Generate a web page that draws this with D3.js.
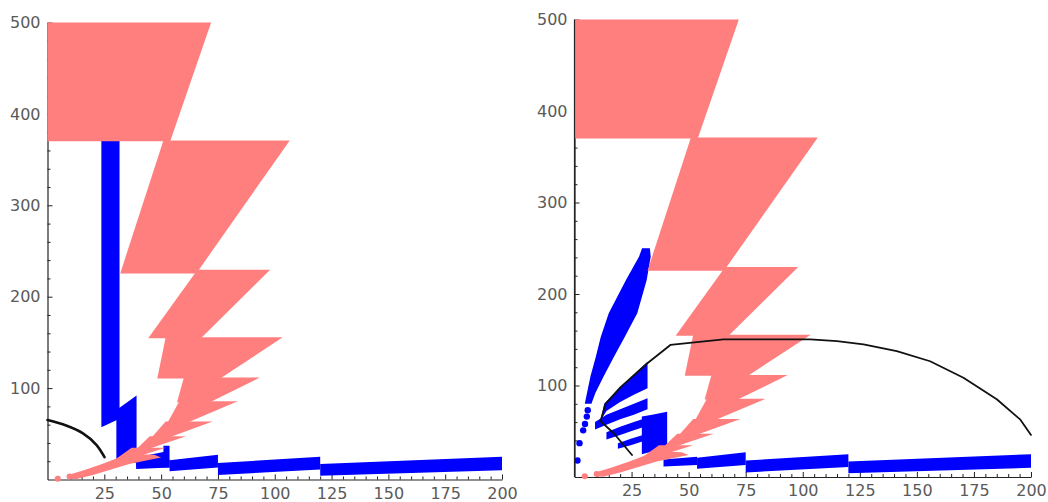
<!DOCTYPE html>
<html>
<head>
<meta charset="utf-8">
<script src="https://cdn.jsdelivr.net/npm/d3@7"></script>
<style>
  body { margin: 0; background: #fff; }
  svg { display: block; }
</style>
</head>
<body>
<svg id="chart" width="1048" height="502"></svg>
<script>
// ---- tick labels ----
const xTickLabels = [25, 50, 75, 100, 125, 150, 175, 200];
const yTickLabels = [100, 200, 300, 400, 500];

// ---- pink region: stacked bands with horizontal top/bottom edges ----
const pinkTop         = [500, 371, 229.5, 155.5, 111.5, 85.5, 63.5, 47.2, 34.7];
const pinkBottom      = [370, 225.5, 154.5, 110.6, 84.6, 62.8, 46.5, 34, 23];
const pinkTopLeft     = [0, 51, 66, 52, 60, 58, 52, 45, 37];
const pinkTopRight    = [72, 106.6, 98, 103.5, 93.4, 83.7, 72.7, 61, 52];
const pinkBottomLeft  = [0, 32, 44.3, 48.3, 57, 53, 46, 39.4, 30.4];
const pinkBottomRight = [54, 65.5, 67.5, 76, 71.5, 62.2, 54, 45, 37];
// tail running down toward the origin
const pinkTail = [
  [9, 1], [12.5, 0.3], [20, 5], [28, 11], [36, 17], [44, 21], [50, 24],
  [47, 27], [38, 28], [32, 24.5], [24, 17], [16, 10], [9, 5]
];
const pinkDots = [[4.5, 0.8], [9.7, 3.3]];

// ---- blue strip along the bottom, in four segments ----
const stripStart     = [39, 53.7, 75, 120];
const stripEnd       = [53.7, 75, 120, 200];
const stripTopStart  = [19, 21, 18, 17];
const stripTopEnd    = [22, 27, 25, 25];
const stripBotStart  = [11.5, 9, 5, 4];
const stripBotEnd    = [13, 13, 11, 10];

// ---- left plot: blue bars ----
const leftBarTall  = [[23.7, 371], [31.7, 371], [31.7, 66.5], [23.7, 57.3]];
const leftBarShort = [[30.3, 20], [30.3, 76], [39.2, 92], [39.2, 18]];
const leftBarThin  = [[39, 14], [39, 24], [51, 30], [51, 37], [53.7, 37], [53.7, 13]];

// ---- right plot: blue fan of streaks ----
const rightOuterRay = [
  [4.5, 80], [5.5, 92], [7, 110], [9.2, 130], [11.5, 153], [15, 179], [22.5, 215], [28.3, 241], [29.6, 250],
  [33, 250], [33.4, 241], [31.6, 215], [27.5, 179], [22, 153], [17, 130], [12.8, 110], [9.2, 92], [7.4, 80]
];
const rightOuterDots = [[1.3, 18], [2.2, 37], [3.8, 51], [4.6, 58], [5.4, 66], [5.8, 73]];
const rightWedge   = [[11.5, 62], [13, 80], [20, 98], [26, 112], [32, 126], [32, 97], [26, 90], [20, 82], [14, 72], [12, 64]];
const rightStreak1 = [[9, 52], [14, 57], [20, 63], [26, 68], [32, 74], [32, 86], [26, 80], [20, 74], [14, 68], [9, 60]];
const rightStreak2 = [[14, 41], [20, 46], [26, 51], [32, 56], [32, 65], [26, 60], [20, 55], [14, 49]];
const rightStreak3 = [[19, 31], [25, 35], [30, 39], [30, 46], [25, 42], [19, 37]];
const rightBlock   = [[29.5, 25], [29.5, 66], [34, 68], [40.6, 71.4], [40.6, 31.4], [34, 28]];

// ---- black curves ----
const leftCurve = [[0, 65], [8.2, 59], [15.6, 50.5], [21.5, 38], [25.1, 24.4]];
const rightCurve = [
  [25.2, 24], [17.2, 47.8], [11.4, 61], [13.6, 80], [20.1, 98], [31.8, 124], [42, 144.3],
  [65.3, 150.5], [103.3, 150.5], [115, 148.5], [126.6, 145], [141.2, 137.5], [155.8, 126.5],
  [170.4, 108.5], [185, 85], [195.2, 63], [200, 46]
];

const PINK = "#ff7f7f";
const BLUE = "#0000ff";

const svg = d3.select("#chart");
svg.append("rect").attr("width", 1048).attr("height", 502).attr("fill", "#fff");

function drawPanel(opts) {
  const x = d3.scaleLinear().domain([0, 200]).range([opts.left, opts.right]);
  const y = d3.scaleLinear().domain([0, 500]).range([opts.bottom, opts.top]);
  const g = svg.append("g");
  const poly = d3.line().x(d => x(d[0])).y(d => y(d[1]));
  const closed = pts => poly(pts) + "Z";

  // axes
  const axisG = g.append("g").attr("class", "axes");
  const xMinor = d3.range(5, 201, 5).filter(v => v % 25 !== 0);
  const yMinor = d3.range(20, 501, 20).filter(v => v % 100 !== 0);

  axisG.append("g").attr("transform", `translate(0,${opts.bottom})`)
    .call(d3.axisBottom(x).tickValues(xTickLabels).tickSize(-5).tickSizeOuter(0).tickPadding(8).tickFormat(d3.format("d")));
  axisG.append("g").attr("transform", `translate(0,${opts.bottom})`)
    .call(d3.axisBottom(x).tickValues(xMinor).tickSize(-3).tickSizeOuter(0).tickFormat(""))
    .select(".domain").remove();
  axisG.append("g").attr("transform", `translate(${opts.left},0)`)
    .call(d3.axisLeft(y).tickValues(yTickLabels).tickSize(-5).tickSizeOuter(0).tickPadding(7).tickFormat(d3.format("d")));
  axisG.append("g").attr("transform", `translate(${opts.left},0)`)
    .call(d3.axisLeft(y).tickValues(yMinor).tickSize(-3).tickSizeOuter(0).tickFormat(""))
    .select(".domain").remove();
  axisG.selectAll(".domain").attr("stroke", "#222").attr("stroke-width", 1.2);
  axisG.selectAll(".tick line").attr("stroke", "#222").attr("stroke-width", 1);
  axisG.selectAll("text")
    .attr("font-family", "DejaVu Sans, Verdana, sans-serif")
    .attr("font-size", 16)
    .attr("fill", "#5a5a5a");

  // blue strip along the bottom
  const strip = stripStart.map((s, i) => [
    [s, stripTopStart[i]], [stripEnd[i], stripTopEnd[i]],
    [stripEnd[i], stripBotEnd[i]], [s, stripBotStart[i]]
  ]);
  g.append("g").selectAll("path").data(strip).join("path")
    .attr("d", closed).attr("fill", BLUE);

  // panel specific blue shapes
  g.append("g").selectAll("path").data(opts.blueShapes).join("path")
    .attr("d", closed).attr("fill", BLUE);
  g.append("g").selectAll("circle").data(opts.blueDots).join("circle")
    .attr("cx", d => x(d[0])).attr("cy", d => y(d[1])).attr("r", 3.2).attr("fill", BLUE);

  // pink bands
  const bands = pinkTop.map((t, i) => [
    [pinkTopLeft[i], t], [pinkTopRight[i], t],
    [pinkBottomRight[i], pinkBottom[i]], [pinkBottomLeft[i], pinkBottom[i]]
  ]);
  const pinkG = g.append("g");
  pinkG.selectAll("path.band").data(bands).join("path").attr("class", "band")
    .attr("d", closed).attr("fill", PINK);
  pinkG.append("path").attr("d", closed(pinkTail)).attr("fill", PINK);
  pinkG.selectAll("circle").data(pinkDots).join("circle")
    .attr("cx", d => x(d[0])).attr("cy", d => y(d[1])).attr("r", 3).attr("fill", PINK);

  // y axis line stays visible over the fill in the right plot
  if (opts.domainOnTop) {
    g.append("line")
      .attr("x1", opts.left).attr("x2", opts.left)
      .attr("y1", y(0)).attr("y2", y(500))
      .attr("stroke", "#222").attr("stroke-width", 1.2);
  }

  // black curve
  g.append("path").attr("d", d3.line().x(d => x(d[0])).y(d => y(d[1])).curve(opts.curveType)(opts.curve))
    .attr("fill", "none").attr("stroke", "#111").attr("stroke-width", opts.curveWidth)
    .attr("stroke-linejoin", "round").attr("stroke-linecap", "round");
}

drawPanel({
  left: 47.5, right: 502, bottom: 479.5, top: 22.5,
  blueShapes: [leftBarTall, leftBarShort, leftBarThin],
  blueDots: [],
  curve: leftCurve, curveType: d3.curveCatmullRom, curveWidth: 2.6,
  domainOnTop: false
});

drawPanel({
  left: 574.5, right: 1031, bottom: 477, top: 19.5,
  blueShapes: [rightOuterRay, rightWedge, rightStreak1, rightStreak2, rightStreak3, rightBlock],
  blueDots: rightOuterDots,
  curve: rightCurve, curveType: d3.curveLinear, curveWidth: 1.8,
  domainOnTop: true
});
</script>
</body>
</html>
